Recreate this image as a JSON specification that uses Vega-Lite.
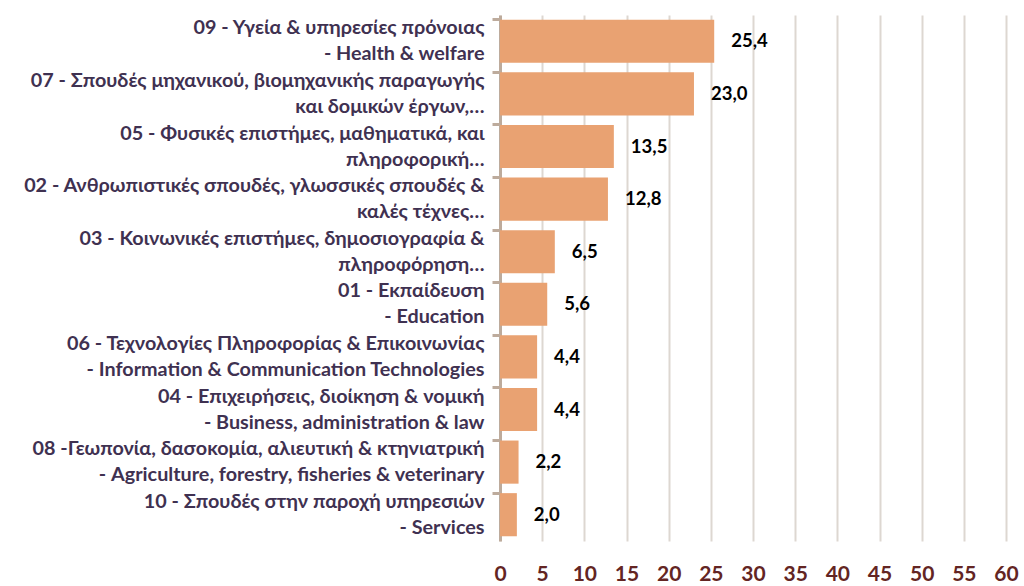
{
  "$schema": "https://vega.github.io/schema/vega-lite/v6.json",
  "width": 506,
  "height": 526,
  "autosize": {"type": "none"},
  "padding": {"left": 500, "top": 15, "right": 18, "bottom": 45},
  "background": "white",
  "data": {
    "values": [
      {"field": "09 - Υγεία & υπηρεσίες πρόνοιας|- Health & welfare", "value": 25.4},
      {"field": "07 - Σπουδές μηχανικού, βιομηχανικής παραγωγής|και δομικών έργων,…", "value": 23.0},
      {"field": "05 - Φυσικές επιστήμες, μαθηματικά, και|πληροφορική…", "value": 13.5},
      {"field": "02 - Ανθρωπιστικές σπουδές, γλωσσικές σπουδές & |καλές τέχνες…", "value": 12.8},
      {"field": "03 - Κοινωνικές επιστήμες, δημοσιογραφία &|πληροφόρηση…", "value": 6.5},
      {"field": "01 - Εκπαίδευση|- Education", "value": 5.6},
      {"field": "06 - Τεχνολογίες Πληροφορίας & Επικοινωνίας|- Information & Communication Technologies", "value": 4.4},
      {"field": "04 - Επιχειρήσεις, διοίκηση & νομική|- Business, administration & law", "value": 4.4},
      {"field": "08 -Γεωπονία, δασοκομία,  αλιευτική & κτηνιατρική|- Agriculture, forestry, fisheries & veterinary", "value": 2.2},
      {"field": "10 - Σπουδές στην παροχή υπηρεσιών |- Services", "value": 2.0}
    ]
  },
  "encoding": {
    "y": {
      "field": "field",
      "type": "nominal",
      "sort": null,
      "scale": {"paddingInner": 0.18, "paddingOuter": 0.09},
      "axis": {
        "title": null,
        "labelExpr": "split(datum.label, '|')",
        "labelFont": "Lato",
        "labelFontWeight": "bold",
        "labelFontSize": 19.8,
        "labelColor": "#3F3151",
        "labelLineHeight": 26,
        "labelLimit": 600,
        "labelPadding": 8,
        "labelOffset": -13,
        "bandPosition": 0,
        "domainColor": "#BDAB9C",
        "domainWidth": 3,
        "tickColor": "#BDAB9C",
        "tickWidth": 3,
        "tickSize": 8,
        "grid": false
      }
    },
    "x": {
      "field": "value",
      "type": "quantitative",
      "scale": {"domain": [0, 60], "nice": false},
      "axis": {
        "title": null,
        "values": [0, 5, 10, 15, 20, 25, 30, 35, 40, 45, 50, 55, 60],
        "labelFont": "Lato",
        "labelFontWeight": "bold",
        "labelFontSize": 21,
        "labelColor": "#632523",
        "labelPadding": 22,
        "domain": false,
        "ticks": false,
        "grid": true,
        "gridColor": "#DDD7D1",
        "gridWidth": 2,
        "labelFlush": false
      }
    }
  },
  "layer": [
    {"mark": {"type": "bar", "color": "#E9A272"}},
    {
      "mark": {
        "type": "text",
        "align": "left",
        "baseline": "middle",
        "dx": 17,
        "font": "Lato",
        "fontWeight": "bold",
        "fontSize": 18.5,
        "color": "#000000"
      },
      "encoding": {
        "text": {"field": "value", "type": "quantitative", "format": ".1f"}
      }
    }
  ],
  "config": {
    "view": {"stroke": null},
    "locale": {
      "number": {"decimal": ",", "thousands": ".", "grouping": [3], "currency": ["", " €"]}
    }
  }
}
